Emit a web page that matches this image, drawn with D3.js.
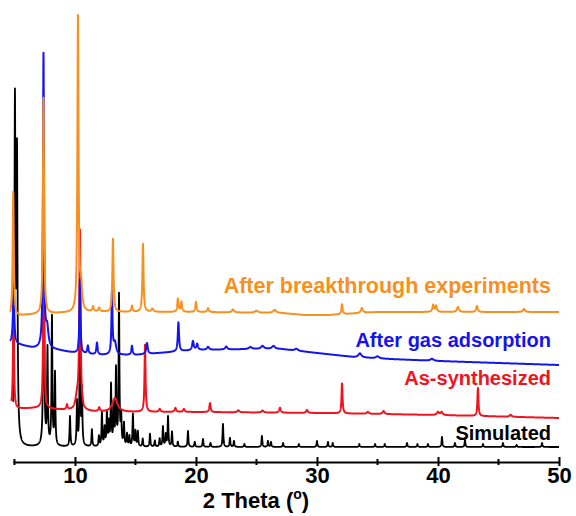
<!DOCTYPE html>
<html>
<head>
<meta charset="utf-8">
<script src="https://cdn.jsdelivr.net/npm/d3@7/dist/d3.min.js"></script>
<style>
body { margin: 0; background: #fff; }
svg { font-family: "Liberation Sans", Arial, sans-serif; font-weight: bold; }
</style>
</head>
<body>
<svg id="svg1" width="576" height="516"></svg>
<script>
// series, bottom to top
var seriesNames = ['Simulated', 'As-synthesized', 'After gas adsorption', 'After breakthrough experiments'];
var seriesStart = [4.9, 4.75, 4.62, 4.62];   // first measured 2theta

// baseline levels [2theta, intensity]
var simulatedBase = [[4.9, 3], [50, 3]];
var synthBase = [[4.7, 41], [7, 42], [9, 40], [12, 38], [20, 38], [30, 37], [40, 35], [50, 32]];
var gasBase = [[4.6, 107], [5.5, 105], [6.5, 102], [8.5, 100], [10, 97], [12, 95], [15, 95], [17, 97],
    [20, 100], [25, 101], [27, 101], [30, 97], [33, 93], [36, 91], [40, 89], [45, 87], [50, 85]];
var breakBase = [[4.6, 133], [6, 135], [9, 137], [12, 138], [20, 138], [27, 137], [29, 135], [31, 135], [35, 138], [50, 138]];

// reflections [2theta, height, fwhm]
var simulatedPeaks = [[5.04, 336, 0.1], [5.21, 282, 0.1], [7.42, 300, 0.08], [7.73, 95, 0.08], [8.10, 128, 0.08],
    [8.35, 72, 0.08], [9.59, 30, 0.08], [10.17, 44, 0.08], [10.41, 150, 0.07], [10.58, 55, 0.08],
    [11.4, 17, 0.08], [11.98, 10, 0.08], [12.23, 33, 0.08], [12.45, 18, 0.08], [12.64, 33, 0.08],
    [12.8, 22, 0.08], [12.98, 60, 0.08], [13.2, 40, 0.08], [13.39, 75, 0.08], [13.64, 150, 0.08],
    [13.82, 28, 0.08], [14.05, 22, 0.08], [14.3, 12, 0.08], [14.5, 10, 0.08], [14.79, 32, 0.08],
    [15.0, 15, 0.08], [15.2, 15, 0.08], [15.6, 8, 0.08], [16.2, 13, 0.08], [16.6, 6, 0.08],
    [17.0, 8, 0.08], [17.27, 20, 0.08], [17.5, 12, 0.08], [17.69, 30, 0.08], [18.02, 15, 0.08],
    [18.5, 5, 0.08], [19.34, 16, 0.08], [19.9, 5, 0.08], [20.58, 8, 0.08], [21.2, 4, 0.08],
    [22.23, 23, 0.08], [22.81, 9, 0.08], [23.14, 6, 0.08], [24.0, 3, 0.08], [25.45, 11, 0.08],
    [25.95, 6, 0.08], [26.2, 5, 0.08], [27.2, 4, 0.08], [28.5, 3, 0.08], [30.0, 6, 0.08],
    [30.91, 5, 0.08], [31.3, 4, 0.08], [33.5, 3, 0.08], [34.8, 3, 0.08], [35.6, 3, 0.08],
    [37.44, 4, 0.08], [38.3, 3, 0.08], [39.17, 3, 0.08], [40.33, 10, 0.08], [41.4, 4, 0.08],
    [42.23, 7, 0.08], [43.72, 3, 0.08], [45.37, 4, 0.08], [46.5, 2, 0.08], [48.6, 4, 0.08]];
var synthPeaks = [[4.92, 100, 0.1], [7.42, 200, 0.09], [9.34, 5, 0.12], [10.17, 12, 0.3], [10.41, 178, 0.12],
    [12.0, 4, 0.15], [13.3, 14, 0.5], [15.79, 67, 0.1], [17.0, 3, 0.15], [18.3, 4, 0.15], [19.0, 3, 0.15],
    [21.16, 9, 0.12], [23.5, 2, 0.2], [25.5, 2, 0.2], [26.94, 5, 0.15], [29.17, 3, 0.15], [32.07, 30, 0.1],
    [34.2, 2, 0.2], [35.5, 3, 0.2], [40.0, 3, 0.2], [40.3, 3, 0.2], [43.3, 28, 0.1], [46.0, 2, 0.2]];
var gasPeaks = [[4.93, 60, 0.12], [7.40, 293, 0.1], [7.7, 20, 0.25], [10.41, 74, 0.1], [11.07, 8, 0.12],
    [11.82, 12, 0.12], [13.06, 62, 0.1], [13.3, 12, 0.25], [14.71, 9, 0.12], [15.95, 11, 0.15],
    [18.55, 29, 0.12], [19.75, 9, 0.15], [20.1, 6, 0.15], [21.0, 3, 0.2], [22.5, 3, 0.2], [24.5, 2, 0.3],
    [25.5, 3, 0.3], [26.4, 3, 0.3], [28.3, 2, 0.3], [33.55, 4, 0.3], [35.0, 2, 0.3], [39.5, 2, 0.3]];
var breakPeaks = [[4.90, 125, 0.11], [7.40, 216, 0.11], [10.25, 294, 0.11], [10.5, 25, 0.2], [11.5, 5, 0.15],
    [12.0, 4, 0.15], [13.14, 73, 0.11], [14.71, 6, 0.12], [15.62, 68, 0.11], [16.4, 3, 0.2], [18.51, 13, 0.12],
    [18.8, 10, 0.12], [20.0, 10, 0.12], [21.0, 4, 0.15], [23.06, 3, 0.2], [25.0, 2, 0.3], [26.5, 3, 0.3],
    [32.07, 10, 0.12], [33.72, 5, 0.2], [39.6, 7, 0.15], [39.85, 6, 0.15], [41.65, 5, 0.2], [43.22, 6, 0.15],
    [47.1, 3, 0.2]];

var majorTicks = [10, 20, 30, 40, 50];
var minorTicks = [5, 15, 25, 35, 45];

var bases = [simulatedBase, synthBase, gasBase, breakBase];
var peaks = [simulatedPeaks, synthPeaks, gasPeaks, breakPeaks];
var colors = ['#000000', '#f0141e', '#1414f0', '#f7901e'];
var widths = [1.8, 2, 2, 2];
var labelSize = [20, 20, 20, 21.5];
var labelY = [440, 385, 347, 293];

var svg = d3.select('#svg1');

var x = d3.scaleLinear().domain([4.88, 50]).range([13, 559]);
var y = d3.scaleLinear().domain([0, 440]).range([450, 10]);

// build each pattern: baseline plus lorentzian reflections
function pattern(base, pk, start) {
    var b = d3.scaleLinear().domain(base.map(function(d) { return d[0]; }))
        .range(base.map(function(d) { return d[1]; })).clamp(true);
    return d3.range(start, 50.0001, 0.01).map(function(t) {
        var v = b(t);
        pk.forEach(function(p) {
            var u = (t - p[0]) / (p[2] / 2);
            v += p[1] / (1 + u * u);
        });
        return [t, v];
    });
}

var line = d3.line()
    .x(function(d) { return x(d[0]); })
    .y(function(d) { return y(d[1]); });

seriesNames.forEach(function(name, i) {
    svg.append('path')
        .datum(pattern(bases[i], peaks[i], seriesStart[i]))
        .attr('d', line)
        .attr('fill', 'none')
        .attr('stroke', colors[i])
        .attr('stroke-width', widths[i])
        .attr('stroke-linejoin', 'round');

    svg.append('text')
        .attr('x', 551)
        .attr('y', labelY[i])
        .attr('text-anchor', 'end')
        .attr('font-size', labelSize[i])
        .attr('fill', colors[i])
        .text(name);
});

// x axis
var axisY = 462;
var ax = svg.append('g')
    .attr('transform', 'translate(0,' + axisY + ')')
    .call(d3.axisBottom(x).tickValues(majorTicks).tickSize(4).tickSizeOuter(0).tickFormat(d3.format('d')));
ax.select('.domain').attr('stroke-width', 2);
ax.selectAll('.tick line').attr('y1', -5).attr('stroke-width', 2);
ax.selectAll('.tick text')
    .attr('y', 21).attr('dy', 0)
    .attr('font-size', 22)
    .attr('font-family', '"Liberation Sans", Arial, sans-serif')
    .attr('font-weight', 'bold')
    .attr('fill', '#000');

ax.selectAll('.minor')
    .data(minorTicks)
    .enter()
    .append('line')
    .attr('class', 'minor')
    .attr('x1', function(d) { return x(d); })
    .attr('x2', function(d) { return x(d); })
    .attr('y1', -3)
    .attr('y2', 3)
    .attr('stroke', '#000')
    .attr('stroke-width', 2);

var title = svg.append('text')
    .attr('x', 256)
    .attr('y', 508)
    .attr('text-anchor', 'middle')
    .attr('font-size', 22)
    .attr('fill', '#000');
title.append('tspan').text('2 Theta (');
title.append('tspan').attr('dy', -9).attr('font-size', 14).text('o');
title.append('tspan').attr('dy', 9).text(')');
</script>
</body>
</html>
